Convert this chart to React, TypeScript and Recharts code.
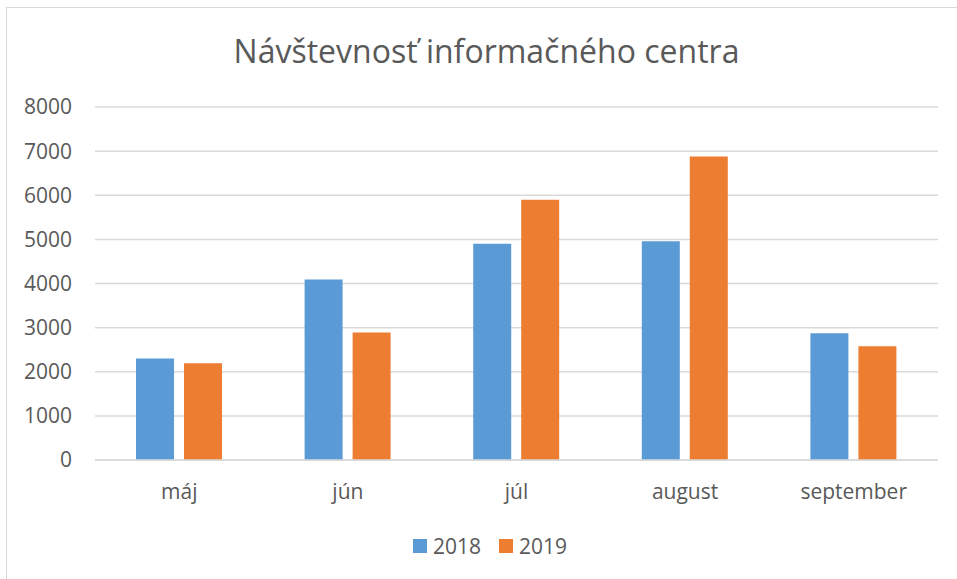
import { Bar, BarChart, CartesianGrid, Legend, XAxis, YAxis } from 'recharts';

const months = ['máj', 'jún', 'júl', 'august', 'september'];
const visits2018 = [2300, 4090, 4900, 4960, 2870];
const visits2019 = [2190, 2890, 5900, 6880, 2580];
const yTicks = [0, 1000, 2000, 3000, 4000, 5000, 6000, 7000, 8000];

const TEXT = '#595959';
const GRID = '#d9d9d9';
const BLUE = '#5B9BD5';
const ORANGE = '#ED7D31';
const FONT = '"Open Sans", "Noto Sans", sans-serif';

const data = months.map((m, i) => ({
  month: m,
  y2018: visits2018[i],
  y2019: visits2019[i],
}));

function LegendRow({ payload }: { payload?: any[] }) {
  return (
    <div
      style={{
        display: 'flex',
        justifyContent: 'center',
        gap: 18,
        height: 28,
        alignItems: 'center',
        fontFamily: FONT,
        fontSize: 21,
        color: TEXT,
        paddingLeft: 42,
      }}
    >
      {(payload ?? []).map((p) => (
        <span key={p.value} style={{ display: 'flex', alignItems: 'center', gap: 6 }}>
          <span style={{ width: 14, height: 14, background: p.color, display: 'inline-block' }} />
          {p.value}
        </span>
      ))}
    </div>
  );
}

export default function App() {
  return (
    <div
      style={{
        position: 'absolute',
        left: 0,
        top: 0,
        width: 957,
        height: 579,
        overflow: 'hidden',
        background: '#fff',
      }}
    >
      {/* chart frame, runs off the right/bottom edge like the source crop */}
      <div
        style={{
          position: 'absolute',
          left: 6,
          top: 7,
          width: 1000,
          height: 700,
          border: `1.5px solid ${GRID}`,
        }}
      />
      <div
        style={{
          position: 'absolute',
          top: 29,
          left: 8,
          width: 957,
          textAlign: 'center',
          fontFamily: FONT,
          fontSize: 32,
          color: TEXT,
          lineHeight: '44px',
          whiteSpace: 'nowrap',
        }}
      >
        Návštevnosť informačného centra
      </div>
      <div style={{ position: 'absolute', left: 0, top: 0 }}>
        <BarChart
          width={957}
          height={579}
          data={data}
          margin={{ top: 107, right: 19, bottom: 19, left: 0 }}
          barSize={38}
          barGap={10}
        >
          <CartesianGrid vertical={false} stroke={GRID} strokeWidth={1.5} />
          <XAxis
            dataKey="month"
            axisLine={{ stroke: GRID, strokeWidth: 1.5 }}
            tickLine={false}
            tickSize={0}
            tickMargin={24}
            height={72}
            tick={{ fill: TEXT, fontSize: 21, fontFamily: FONT }}
          />
          <YAxis
            domain={[0, 8000]}
            ticks={yTicks}
            width={95}
            axisLine={false}
            tickLine={false}
            tickSize={0}
            tickMargin={23}
            tick={{ fill: TEXT, fontSize: 21, fontFamily: FONT }}
          />
          <Legend verticalAlign="bottom" content={<LegendRow />} />
          <Bar dataKey="y2018" name="2018" fill={BLUE} isAnimationActive={false} />
          <Bar dataKey="y2019" name="2019" fill={ORANGE} isAnimationActive={false} />
        </BarChart>
      </div>
    </div>
  );
}
